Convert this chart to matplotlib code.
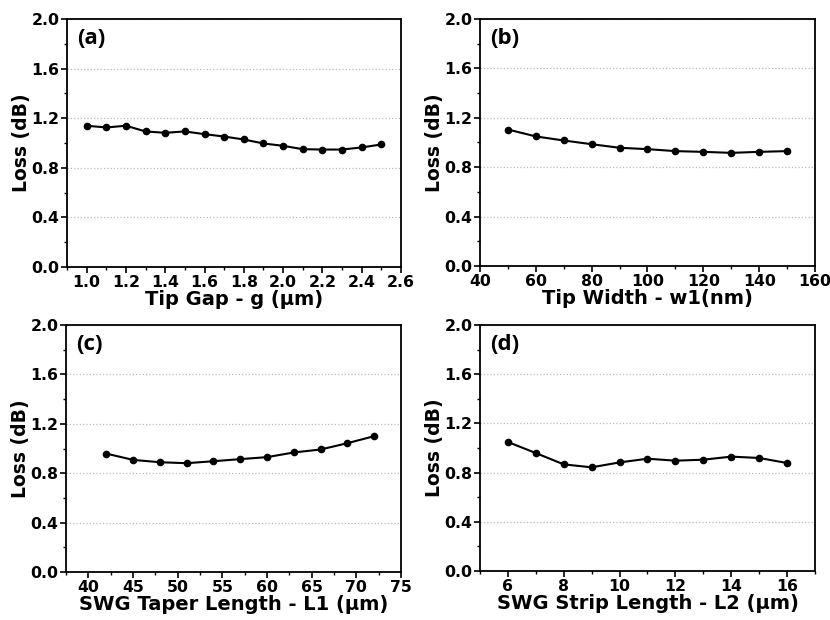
import numpy as np
import matplotlib.pyplot as plt
from matplotlib.ticker import MultipleLocator

plt.rcParams['font.family'] = ['DejaVu Sans']
plt.rcParams['font.weight'] = 'bold'

# panel data
gap = [1.0, 1.1, 1.2, 1.3, 1.4, 1.5, 1.6, 1.7, 1.8, 1.9, 2.0, 2.1, 2.2, 2.3, 2.4, 2.5]
gap_loss = [1.139, 1.125, 1.139, 1.093, 1.082, 1.093, 1.071, 1.052, 1.028, 0.996,
            0.977, 0.950, 0.947, 0.947, 0.964, 0.988]

width = [50, 60, 70, 80, 90, 100, 110, 120, 130, 140, 150]
width_loss = [1.105, 1.049, 1.016, 0.986, 0.957, 0.946, 0.930, 0.924, 0.916, 0.924, 0.930]

taper = [42, 45, 48, 51, 54, 57, 60, 63, 66, 69, 72]
taper_loss = [0.959, 0.908, 0.889, 0.881, 0.897, 0.914, 0.930, 0.968, 0.992, 1.043, 1.100]

strip = [6, 7, 8, 9, 10, 11, 12, 13, 14, 15, 16]
strip_loss = [1.049, 0.959, 0.867, 0.843, 0.883, 0.913, 0.897, 0.905, 0.930, 0.919, 0.878]

panels = [
    (gap, gap_loss, 'Tip Gap - g (µm)', '(a)', (0.9, 2.6), 0.2, 0.1,
     [0.0807, 0.5694, 0.4024, 0.4000]),
    (width, width_loss, 'Tip Width - w1(nm)', '(b)', (40, 160), 20, 10,
     [0.5783, 0.5710, 0.4036, 0.3984]),
    (taper, taper_loss, 'SWG Taper Length - L1 (µm)', '(c)', (37.5, 75), 5, 2.5,
     [0.0795, 0.0774, 0.4036, 0.3984]),
    (strip, strip_loss, 'SWG Strip Length - L2 (µm)', '(d)', (5, 17), 2, 1,
     [0.5783, 0.0790, 0.4036, 0.3968]),
]

fig = plt.figure(figsize=(8.3, 6.2), dpi=100)

for x, y, xlabel, tag, xlim, major, minor, pos in panels:
    ax = fig.add_axes(pos)
    ax.plot(x, y, '-o', color='black', lw=1.5, ms=4.5)
    ax.set_xlim(*xlim)
    ax.set_ylim(0, 2.0)
    ax.xaxis.set_major_locator(MultipleLocator(major))
    ax.xaxis.set_minor_locator(MultipleLocator(minor))
    ax.yaxis.set_major_locator(MultipleLocator(0.4))
    ax.yaxis.set_minor_locator(MultipleLocator(0.2))
    ax.yaxis.set_major_formatter(plt.FormatStrFormatter('%.1f'))
    if tag == '(a)':
        ax.xaxis.set_major_formatter(plt.FormatStrFormatter('%.1f'))
    ax.tick_params(which='major', direction='out', length=4, width=1.2,
                   labelsize=11.3, pad=1.5)
    ax.tick_params(which='minor', direction='out', length=2.5, width=1.0)
    ax.tick_params(top=False, right=False, which='both')
    for s in ax.spines.values():
        s.set_linewidth(1.3)
    ax.grid(axis='y', which='major', color='#bbbbbb', ls=':', lw=0.9)
    ax.set_xlabel(xlabel, fontsize=14, fontweight='bold', labelpad=0)
    ax.set_ylabel('Loss (dB)', fontsize=13.5, fontweight='bold', labelpad=0)
    ax.text(0.03, 0.965, tag, transform=ax.transAxes, fontsize=16,
            fontweight='bold', family=['Open Sans', 'DejaVu Sans'],
            va='top', ha='left')

fig.savefig('out.png', dpi=100)
